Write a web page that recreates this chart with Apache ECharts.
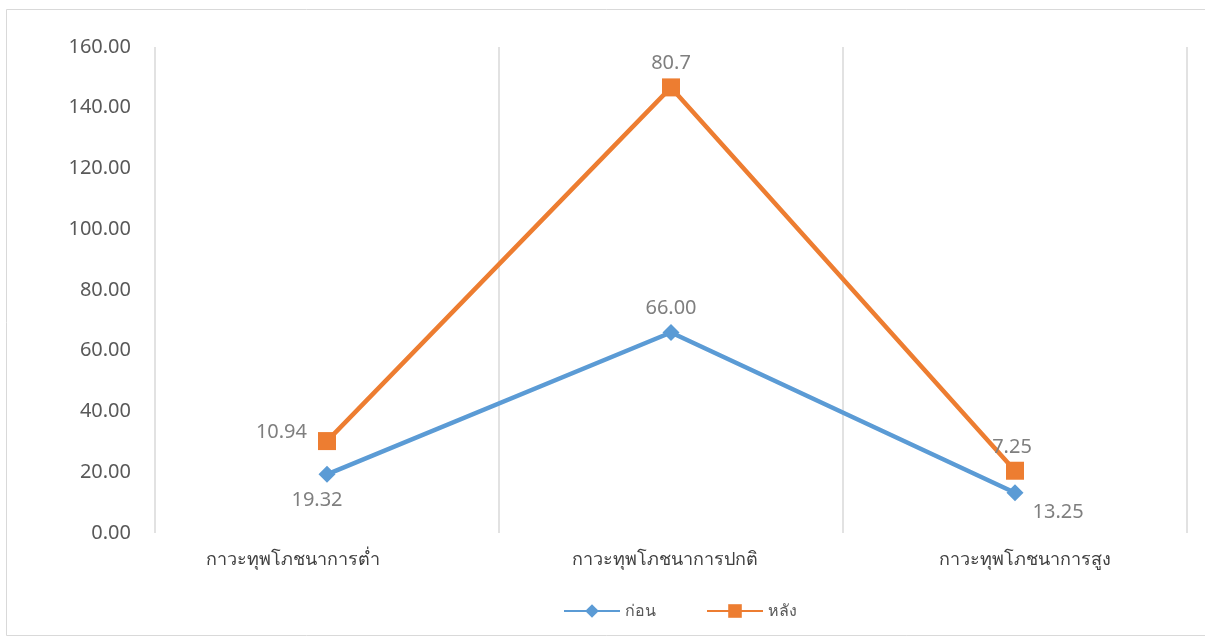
<!DOCTYPE html>
<html>
<head>
<meta charset="utf-8">
<script src="https://cdn.jsdelivr.net/npm/echarts@6/dist/echarts.min.js"></script>
<style>
html,body{margin:0;padding:0;background:#fff;}
#c{width:1205px;height:638px;}
</style>
</head>
<body>
<div id="c"></div>
<script>
const categories = ['กาวะทุพโภชนาการต่ำ', 'กาวะทุพโภชนาการปกติ', 'กาวะทุพโภชนาการสูง'];
const beforeValues = [19.32, 66.00, 13.25];
const afterValues = [10.94, 80.7, 7.25];
const seriesNames = ['ก่อน', 'หลัง'];
const yTicks = { min: 0, max: 160, interval: 20 };

const FONT = "'Noto Sans', 'DejaVu Sans', sans-serif";
const chart = echarts.init(document.getElementById('c'), null, { renderer: 'canvas' });

const beforeLabelPos = ['bottom', 'top', 'right'];
const beforeLabelOffset = [[-10, 2], [0, -1], [4, 20]];
const afterLabelPos = ['left', 'top', 'top'];
const afterLabelOffset = [[-6, -9], [0, 0], [-3, 1]];
// horizontal shift of category labels (Excel-like placement)
const catPad = [[0, 68, 0, 0], [0, 12, 0, 0], [0, 0, 0, 20]];

chart.setOption({
  animation: false,
  backgroundColor: '#fff',
  textStyle: { fontFamily: FONT },
  graphic: [{
    type: 'rect', shape: { x: 6.5, y: 9.5, width: 1210, height: 626 },
    style: { fill: 'none', stroke: '#d9d9d9', lineWidth: 1 }, silent: true
  }],
  grid: { left: 155, right: 18, top: 47, bottom: 105, containLabel: false },
  legend: {
    bottom: 14, left: 558, itemWidth: 56, itemHeight: 17, itemGap: 50,
    textStyle: { color: '#595959', fontSize: 16, fontFamily: FONT },
    data: seriesNames
  },
  xAxis: {
    type: 'category',
    data: categories.map((c, i) => ({ value: c, textStyle: { padding: catPad[i] } })),
    boundaryGap: true,
    axisLine: { show: false }, axisTick: { show: false },
    axisLabel: { color: '#404040', fontSize: 18, margin: 18, fontFamily: FONT },
    splitLine: { show: true, lineStyle: { color: '#d9d9d9', width: 1.5 } }
  },
  yAxis: {
    type: 'value', min: yTicks.min, max: yTicks.max, interval: yTicks.interval,
    axisLine: { show: false }, axisTick: { show: false }, splitLine: { show: false },
    axisLabel: { color: '#595959', fontSize: 20, margin: 24, fontFamily: FONT,
      formatter: v => v.toFixed(2) }
  },
  series: [
    {
      name: seriesNames[0], type: 'line', stack: 'total',
      symbol: 'diamond', symbolSize: 17,
      lineStyle: { color: '#5B9BD5', width: 4.5 },
      itemStyle: { color: '#5B9BD5' },
      data: beforeValues.map((v, i) => ({
        value: v,
        label: { show: true, position: beforeLabelPos[i], offset: beforeLabelOffset[i],
          formatter: () => v.toFixed(2) }
      })),
      label: { color: '#7f7f7f', fontSize: 20, fontFamily: FONT }
    },
    {
      name: seriesNames[1], type: 'line', stack: 'total',
      symbol: 'rect', symbolSize: 18,
      lineStyle: { color: '#ED7D31', width: 4.5 },
      itemStyle: { color: '#ED7D31' },
      data: afterValues.map((v, i) => ({
        value: v,
        label: { show: true, position: afterLabelPos[i], offset: afterLabelOffset[i],
          formatter: () => String(v) }
      })),
      label: { color: '#7f7f7f', fontSize: 20, fontFamily: FONT }
    }
  ]
});
</script>
</body>
</html>
